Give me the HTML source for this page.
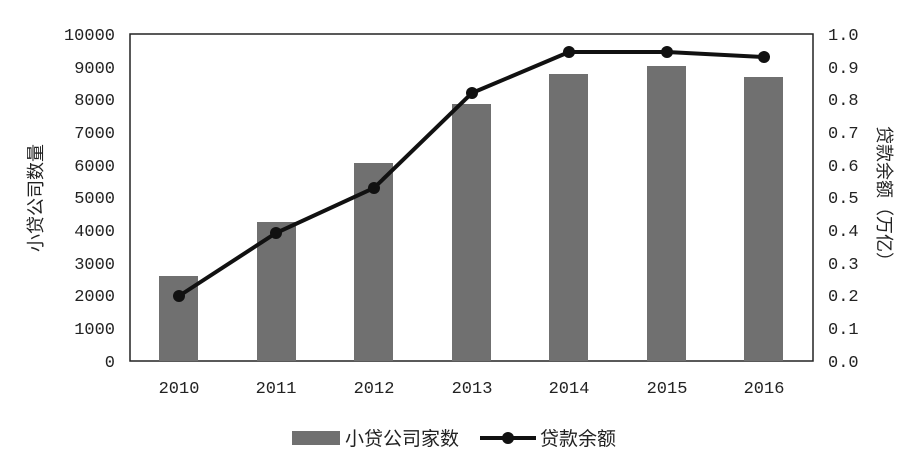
<!DOCTYPE html>
<html><head><meta charset="utf-8"><style>body{margin:0;background:#fff}</style></head><body>
<svg width="918" height="466" xmlns="http://www.w3.org/2000/svg" font-family="'Liberation Mono','Noto Serif CJK SC',monospace" font-size="17" fill="#222">
<rect x="130" y="34" width="683" height="327" fill="none" stroke="#222" stroke-width="1.5"/>
<g fill="#707070">
<rect x="159" y="276" width="39" height="85"/>
<rect x="257" y="222" width="39" height="139"/>
<rect x="354" y="163" width="39" height="198"/>
<rect x="452" y="104" width="39" height="257"/>
<rect x="549" y="74" width="39" height="287"/>
<rect x="647" y="66" width="39" height="295"/>
<rect x="744" y="77" width="39" height="284"/>
</g>
<polyline points="179,296 276,233 374,188 472,93 569,52 667,52 764,57" fill="none" stroke="#111" stroke-width="4"/>
<g fill="#111"><circle cx="179" cy="296" r="6"/><circle cx="276" cy="233" r="6"/><circle cx="374" cy="188" r="6"/><circle cx="472" cy="93" r="6"/><circle cx="569" cy="52" r="6"/><circle cx="667" cy="52" r="6"/><circle cx="764" cy="57" r="6"/></g>
<g text-anchor="end">
<text x="115" y="40">10000</text><text x="115" y="73">9000</text><text x="115" y="105">8000</text><text x="115" y="138">7000</text><text x="115" y="171">6000</text><text x="115" y="203">5000</text><text x="115" y="236">4000</text><text x="115" y="269">3000</text><text x="115" y="301">2000</text><text x="115" y="334">1000</text><text x="115" y="367">0</text>
</g>
<g>
<text x="828" y="40">1.0</text><text x="828" y="73">0.9</text><text x="828" y="105">0.8</text><text x="828" y="138">0.7</text><text x="828" y="171">0.6</text><text x="828" y="203">0.5</text><text x="828" y="236">0.4</text><text x="828" y="269">0.3</text><text x="828" y="301">0.2</text><text x="828" y="334">0.1</text><text x="828" y="367">0.0</text>
</g>
<g text-anchor="middle">
<text x="179" y="393">2010</text><text x="276" y="393">2011</text><text x="374" y="393">2012</text><text x="472" y="393">2013</text><text x="569" y="393">2014</text><text x="667" y="393">2015</text><text x="764" y="393">2016</text>
</g>
<text transform="translate(42,198) rotate(-90)" text-anchor="middle" font-family="'Noto Sans CJK SC',sans-serif" font-size="18">小贷公司数量</text>
<text transform="translate(878,198) rotate(90)" text-anchor="middle" font-family="'Noto Sans CJK SC',sans-serif" font-size="18">贷款余额（万亿）</text>
<rect x="292" y="431" width="48" height="14" fill="#707070"/>
<text x="345" y="445" font-family="'Noto Sans CJK SC',sans-serif" font-size="19">小贷公司家数</text>
<line x1="480" y1="438" x2="536" y2="438" stroke="#111" stroke-width="4"/>
<circle cx="508" cy="438" r="6" fill="#111"/>
<text x="540" y="445" font-family="'Noto Sans CJK SC',sans-serif" font-size="19">贷款余额</text>
</svg>
</body></html>
